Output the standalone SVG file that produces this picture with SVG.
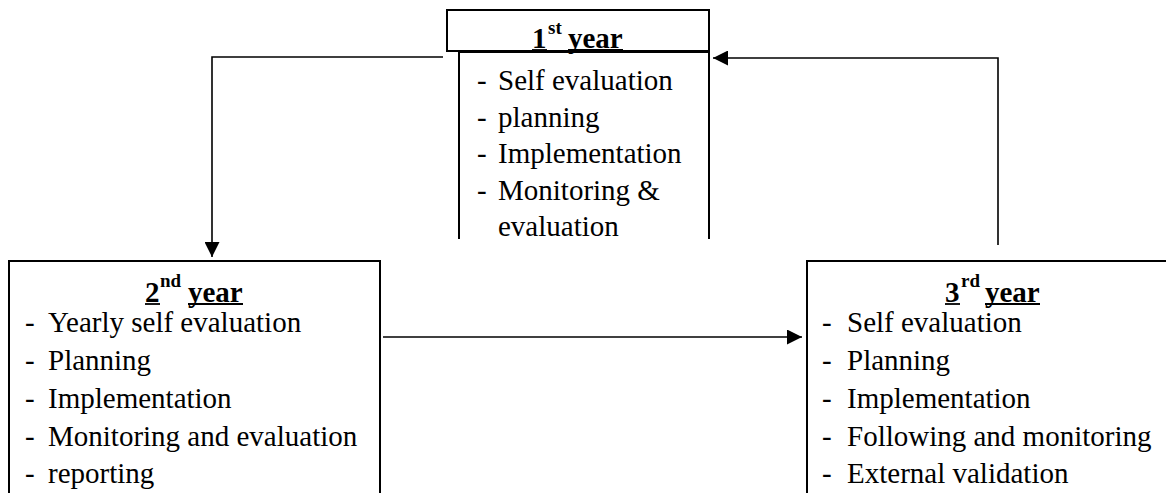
<svg xmlns="http://www.w3.org/2000/svg" width="1166" height="493" viewBox="0 0 1166 493">
<defs>
<style>
.box{fill:none;stroke:#000;stroke-width:2}
.conn{fill:none;stroke:#000;stroke-width:1.6}
.t{font-family:"Liberation Serif","Times New Roman",serif;font-size:29px;fill:#000}
.h{font-family:"Liberation Serif","Times New Roman",serif;font-size:29px;font-weight:bold;fill:#000}
.sup{font-family:"Liberation Serif","Times New Roman",serif;font-size:19px;font-weight:bold;fill:#000}
.ul{stroke:#000;stroke-width:1.8}
</style>
<marker id="ah" markerWidth="15" markerHeight="15" refX="15" refY="7.5" orient="auto" markerUnits="userSpaceOnUse">
<path d="M0,0 L15,7.5 L0,15 Z" fill="#000"/>
</marker>
</defs>
<rect width="1166" height="493" fill="#fff"/>
<g id="connectors">
<polyline class="conn" points="443,57 212,57 212,257" marker-end="url(#ah)"/>
<polyline class="conn" points="998,245 998,58 713,58" marker-end="url(#ah)"/>
<line class="conn" x1="383" y1="337" x2="802" y2="337" marker-end="url(#ah)"/>
</g>
<g id="year1">
<rect class="box" x="447" y="10" width="262" height="41"/>
<path class="box" d="M459,239 V52 H709 V239"/>
<text class="h" x="532" y="48">1</text>
<text class="sup" x="548" y="34">st</text>
<text class="h" x="568" y="48">year</text>
<line class="ul" x1="532" y1="50" x2="547" y2="50"/>
<line class="ul" x1="568" y1="50" x2="623" y2="50"/>
<text class="t" x="477" y="90">-</text><text class="t" x="498" y="90">Self evaluation</text>
<text class="t" x="477" y="126.5">-</text><text class="t" x="498" y="126.5">planning</text>
<text class="t" x="477" y="163">-</text><text class="t" x="498" y="163">Implementation</text>
<text class="t" x="477" y="199.5">-</text><text class="t" x="498" y="199.5">Monitoring &amp;</text>
<text class="t" x="498" y="236">evaluation</text>
</g>
<g id="year2">
<path class="box" d="M9,494 V261 H380 V494"/>
<text class="h" x="145" y="302">2</text>
<text class="sup" x="160" y="287">nd</text>
<text class="h" x="188" y="302">year</text>
<line class="ul" x1="145" y1="304" x2="160" y2="304"/>
<line class="ul" x1="188" y1="304" x2="243" y2="304"/>
<text class="t" x="25" y="332">-</text><text class="t" x="48" y="332">Yearly self evaluation</text>
<text class="t" x="25" y="370">-</text><text class="t" x="48" y="370">Planning</text>
<text class="t" x="25" y="408">-</text><text class="t" x="48" y="408">Implementation</text>
<text class="t" x="25" y="446">-</text><text class="t" x="48" y="446">Monitoring and evaluation</text>
<text class="t" x="25" y="483">-</text><text class="t" x="48" y="483">reporting</text>
</g>
<g id="year3">
<path class="box" d="M807,494 V261 H1170"/>
<text class="h" x="945" y="302">3</text>
<text class="sup" x="961" y="287">rd</text>
<text class="h" x="985" y="302">year</text>
<line class="ul" x1="945" y1="304" x2="960" y2="304"/>
<line class="ul" x1="985" y1="304" x2="1040" y2="304"/>
<text class="t" x="822" y="332">-</text><text class="t" x="847" y="332">Self evaluation</text>
<text class="t" x="822" y="370">-</text><text class="t" x="847" y="370">Planning</text>
<text class="t" x="822" y="408">-</text><text class="t" x="847" y="408">Implementation</text>
<text class="t" x="822" y="446">-</text><text class="t" x="847" y="446">Following and monitoring</text>
<text class="t" x="822" y="483">-</text><text class="t" x="847" y="483">External validation</text>
</g>
</svg>
